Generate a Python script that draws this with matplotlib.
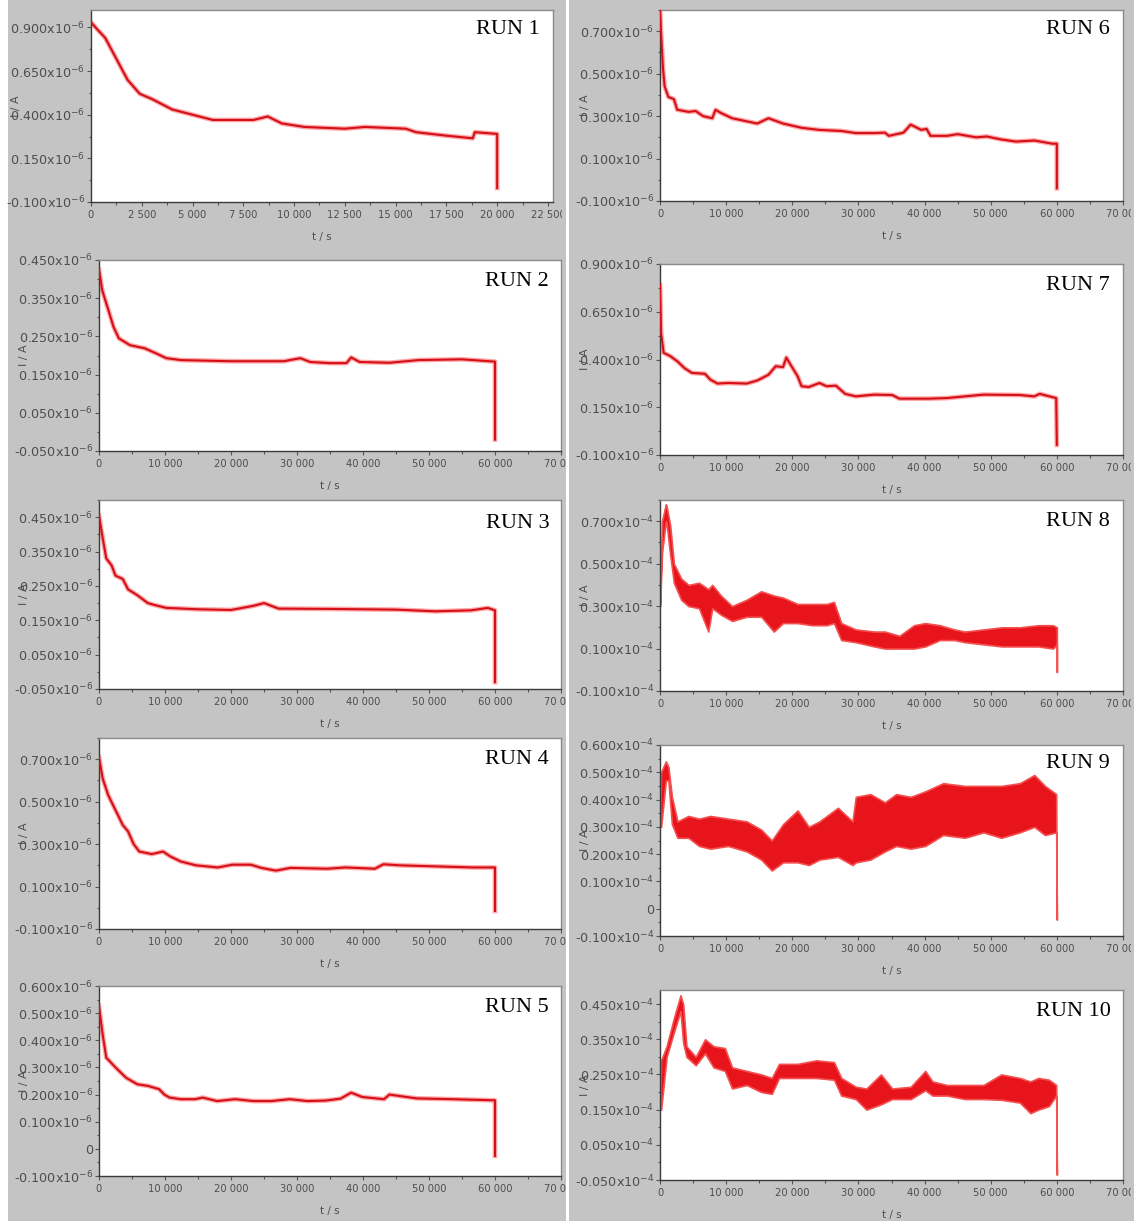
import matplotlib
matplotlib.use("Agg")
import matplotlib.pyplot as plt
from matplotlib.patches import Rectangle
from matplotlib.ticker import AutoMinorLocator
from matplotlib.transforms import Bbox, TransformedBbox

# ---------------- data (current in units shown on each axis) ----------------
t1 = [0, 300, 700, 1250, 1800, 2400, 3000, 4000, 5000, 6000, 7000, 8000, 8700, 9400,
      10500, 12500, 13500, 15500, 16000, 17500, 18800, 18900, 20000, 20000]
i1 = [0.93, 0.89, 0.84, 0.72, 0.60, 0.52, 0.49, 0.43, 0.40, 0.37, 0.37, 0.37, 0.39, 0.35,
      0.33, 0.32, 0.33, 0.32, 0.30, 0.28, 0.265, 0.30, 0.29, -0.02]

t2 = [0, 500, 1400, 2200, 3000, 4700, 6900, 8600, 10200, 12400, 20000, 28000, 30500, 32000,
      35000, 37500, 38200, 39500, 44000, 48400, 55000, 60000, 60000]
i2 = [0.425, 0.37, 0.32, 0.275, 0.245, 0.227, 0.219, 0.206, 0.193, 0.188, 0.185, 0.185, 0.193, 0.183,
      0.18, 0.18, 0.195, 0.183, 0.181, 0.188, 0.19, 0.184, -0.02]

t3 = [0, 550, 1100, 1900, 2500, 3600, 4400, 5800, 7400, 8500, 10200, 15000, 20000, 23400,
      25000, 27200, 35000, 45000, 51000, 56400, 58900, 60000, 60000]
i3 = [0.455, 0.39, 0.33, 0.31, 0.28, 0.27, 0.24, 0.223, 0.20, 0.194, 0.186, 0.182, 0.18, 0.192,
      0.20, 0.184, 0.183, 0.181, 0.176, 0.179, 0.186, 0.179, -0.03]

t4 = [0, 550, 1400, 2500, 3600, 4400, 5250, 6100, 8000, 9700, 10800, 12400, 14700, 18000,
      20200, 23000, 24600, 26800, 29000, 34600, 37300, 41800, 43100, 45600, 51100, 56700, 60000, 60000]
i4 = [0.71, 0.61, 0.53, 0.46, 0.39, 0.36, 0.30, 0.265, 0.253, 0.265, 0.242, 0.218, 0.20, 0.19,
      0.203, 0.203, 0.188, 0.175, 0.188, 0.184, 0.19, 0.184, 0.205, 0.20, 0.195, 0.19, 0.19, -0.015]

t5 = [0, 550, 1100, 2500, 4100, 5800, 7400, 9100, 9900, 10700, 12400, 14600, 15700, 17900,
      20600, 23400, 26100, 28900, 31600, 34400, 36600, 38200, 39900, 43200, 44000, 48100, 53600,
      59600, 60000, 60000]
i5 = [0.526, 0.422, 0.336, 0.30, 0.262, 0.238, 0.232, 0.22, 0.20, 0.189, 0.183, 0.183, 0.189, 0.176,
      0.183, 0.176, 0.176, 0.183, 0.176, 0.178, 0.185, 0.207, 0.191, 0.183, 0.20, 0.186, 0.183,
      0.179, 0.179, -0.026]

t6 = [0, 165, 440, 700, 1270, 2100, 2600, 4300, 5400, 6500, 7900, 8400, 9200, 10900, 14700,
      16400, 18600, 21400, 24100, 27400, 29600, 32400, 34000, 34600, 36800, 37900, 39500, 40300,
      40900, 43400, 45000, 47800, 49400, 51600, 53800, 56600, 59300, 60000, 60000]
i6 = [0.80, 0.69, 0.53, 0.44, 0.39, 0.38, 0.33, 0.32, 0.324, 0.30, 0.29, 0.33, 0.315, 0.29, 0.265,
      0.29, 0.265, 0.245, 0.235, 0.23, 0.22, 0.22, 0.222, 0.207, 0.222, 0.26, 0.235, 0.24,
      0.207, 0.207, 0.215, 0.20, 0.204, 0.19, 0.18, 0.185, 0.17, 0.17, -0.04]

t7 = [0, 165, 550, 1540, 2640, 3700, 4800, 6800, 7600, 8700, 10300, 13100, 14700, 16400, 17500,
      18600, 19100, 19700, 20800, 21400, 22500, 24100, 25200, 26600, 28000, 29600, 32400, 35100,
      36200, 40600, 43400, 46100, 48900, 54400, 56600, 57400, 59900, 60000]
i7 = [0.79, 0.54, 0.435, 0.418, 0.39, 0.355, 0.33, 0.325, 0.295, 0.274, 0.277, 0.274, 0.29, 0.32, 0.365,
      0.36, 0.41, 0.375, 0.313, 0.26, 0.256, 0.277, 0.26, 0.263, 0.22, 0.207, 0.216, 0.214,
      0.195, 0.195, 0.198, 0.207, 0.216, 0.214, 0.207, 0.22, 0.198, -0.047]

# noisy runs: lower / upper envelope of the trace
t8 = [0, 300, 880, 1000, 1540, 2100, 3200, 4300, 5900, 7300, 7900, 9200, 10900, 13100, 15300,
      17200, 18600, 20800, 23000, 25200, 26300, 27400, 29600, 32400, 34000, 36200, 38400, 40100,
      42300, 44500, 46100, 48900, 51700, 54400, 57200, 59400, 60000, 60000]
hi8 = [0.30, 0.70, 0.78, 0.77, 0.68, 0.50, 0.43, 0.40, 0.41, 0.38, 0.40, 0.35, 0.30, 0.33, 0.37,
       0.35, 0.34, 0.31, 0.31, 0.31, 0.32, 0.22, 0.19, 0.18, 0.18, 0.16, 0.21, 0.22,
       0.21, 0.19, 0.18, 0.19, 0.20, 0.20, 0.21, 0.21, 0.20, -0.01]
lo8 = [0.30, 0.55, 0.70, 0.69, 0.54, 0.41, 0.33, 0.30, 0.29, 0.18, 0.29, 0.26, 0.23, 0.25, 0.25,
       0.18, 0.22, 0.22, 0.21, 0.21, 0.22, 0.14, 0.13, 0.11, 0.10, 0.10, 0.10, 0.11,
       0.14, 0.14, 0.13, 0.12, 0.11, 0.11, 0.11, 0.10, 0.12, -0.01]

t9 = [0, 165, 880, 1270, 1800, 2640, 4300, 5900, 7600, 10300, 13100, 15300, 16900, 18600, 20800,
      22500, 24100, 26900, 29100, 29600, 31800, 34000, 35700, 37900, 40100, 42800, 46100, 48900,
      51600, 54400, 56600, 58200, 59900, 60000]
hi9 = [0.30, 0.50, 0.54, 0.52, 0.41, 0.32, 0.34, 0.33, 0.34, 0.33, 0.32, 0.29, 0.25, 0.31, 0.36,
       0.30, 0.32, 0.37, 0.32, 0.41, 0.42, 0.39, 0.42, 0.41, 0.43, 0.46, 0.45, 0.45,
       0.45, 0.46, 0.49, 0.45, 0.42, -0.04]
lo9 = [0.30, 0.30, 0.47, 0.47, 0.31, 0.26, 0.26, 0.23, 0.22, 0.23, 0.21, 0.18, 0.14, 0.17, 0.17,
       0.16, 0.18, 0.19, 0.16, 0.17, 0.18, 0.21, 0.23, 0.22, 0.23, 0.27, 0.26, 0.28,
       0.26, 0.28, 0.30, 0.27, 0.28, -0.04]

t10 = [0, 165, 1000, 2100, 3100, 3500, 4000, 5400, 6800, 8100, 9800, 10900, 13100, 15300, 16900,
       18000, 20800, 23600, 26300, 27400, 29600, 31200, 33400, 35100, 37900, 40100, 41200, 43400,
       46100, 48900, 51600, 54400, 56000, 57200, 58800, 59900, 60000]
hi10 = [0.15, 0.29, 0.33, 0.41, 0.475, 0.45, 0.33, 0.30, 0.35, 0.33, 0.325, 0.27, 0.26, 0.25, 0.24,
        0.28, 0.28, 0.29, 0.285, 0.24, 0.215, 0.21, 0.25, 0.21, 0.215, 0.26, 0.23, 0.22,
        0.22, 0.22, 0.25, 0.24, 0.23, 0.24, 0.235, 0.22, -0.035]
lo10 = [0.15, 0.15, 0.30, 0.37, 0.43, 0.34, 0.30, 0.276, 0.31, 0.27, 0.26, 0.21, 0.22, 0.20, 0.195,
        0.24, 0.24, 0.24, 0.235, 0.19, 0.18, 0.15, 0.165, 0.18, 0.18, 0.205, 0.19, 0.19,
        0.18, 0.18, 0.178, 0.17, 0.14, 0.15, 0.16, 0.19, -0.035]

# tick values / labels
yt_a = [-0.1, 0.15, 0.4, 0.65, 0.9]
yt_b = [-0.05, 0.05, 0.15, 0.25, 0.35, 0.45]
yt_c = [-0.1, 0.1, 0.3, 0.5, 0.7]
yt_d = [-0.1, 0.0, 0.1, 0.2, 0.3, 0.4, 0.5, 0.6]
xt_short = [0, 2500, 5000, 7500, 10000, 12500, 15000, 17500, 20000, 22500]
xt_long = [0, 10000, 20000, 30000, 40000, 50000, 60000, 70000]
run_names = ["RUN 1", "RUN 2", "RUN 3", "RUN 4", "RUN 5",
             "RUN 6", "RUN 7", "RUN 8", "RUN 9", "RUN 10"]

# ---------------- layout ----------------
W, H = 1136, 1221
BG = "#c4c4c4"
RED = "#e8141c"
TXT = "#4e4e4e"

fig = plt.figure(figsize=(W / 100, H / 100), dpi=100)
fig.patch.set_facecolor("white")
fig.add_artist(Rectangle((8 / W, 0), (566 - 8) / W, 1, transform=fig.transFigure,
                         facecolor=BG, edgecolor="none", zorder=0))
fig.add_artist(Rectangle((569 / W, 0), (1134 - 569) / W, 1, transform=fig.transFigure,
                         facecolor=BG, edgecolor="none", zorder=0))

# (name idx, kind, data, box px (l,t,r,b), ylim, yticks, exponent, xlim, xticks, clip x-range, label pos)
panels = [
    (0, "line", (t1, i1), (91, 10, 553, 202), (-0.1, 1.0), yt_a, -6, (0, 22750), xt_short, (8, 562), (540, 30)),
    (1, "line", (t2, i2), (99, 260, 561, 451), (-0.05, 0.45), yt_b, -6, (0, 70000), xt_long, (8, 566), (549, 282)),
    (2, "line", (t3, i3), (99, 500, 561, 689), (-0.05, 0.50), yt_b, -6, (0, 70000), xt_long, (8, 566), (550, 524)),
    (3, "line", (t4, i4), (99, 738, 561, 929), (-0.1, 0.8), yt_c, -6, (0, 70000), xt_long, (8, 566), (549, 760)),
    (4, "line", (t5, i5), (99, 986, 561, 1176), (-0.1, 0.6), yt_d, -6, (0, 70000), xt_long, (8, 566), (549, 1007)),
    (5, "line", (t6, i6), (660, 10, 1123, 201), (-0.1, 0.8), yt_c, -6, (0, 70000), xt_long, (569, 1131), (1110, 30)),
    (6, "line", (t7, i7), (660, 264, 1123, 455), (-0.1, 0.9), yt_a, -6, (0, 70000), xt_long, (569, 1131), (1110, 285)),
    (7, "band", (t8, lo8, hi8), (660, 500, 1123, 691), (-0.1, 0.8), yt_c, -4, (0, 70000), xt_long, (569, 1131), (1110, 522)),
    (8, "band", (t9, lo9, hi9), (660, 745, 1123, 936), (-0.1, 0.6), yt_d, -4, (0, 70000), xt_long, (569, 1131), (1110, 764)),
    (9, "band", (t10, lo10, hi10), (660, 990, 1123, 1180), (-0.05, 0.49), yt_b, -4, (0, 70000), xt_long, (569, 1131), (1111, 1011)),
]


def ylab(v, e):
    if abs(v) < 1e-12:
        return "0"
    return "%.3fx10$^{%d}$" % (v, e)


def xlab(v):
    return "{:,}".format(int(v)).replace(",", " ")


for idx, kind, data, box, ylim, yt, ex, xlim, xt, clipx, lpos in panels:
    l, t, r, b = box
    ax = fig.add_axes([l / W, 1 - b / H, (r - l) / W, (b - t) / H])
    ax.set_facecolor("white")
    ax.set_xlim(*xlim)
    ax.set_ylim(*ylim)
    if kind == "line":
        tt, ii = data
        ax.plot(tt, ii, color="#ff3a3a", lw=3.4, alpha=0.45, solid_joinstyle="round", zorder=2)
        ax.plot(tt, ii, color="#d40f18", lw=1.5, solid_joinstyle="round", zorder=3)
    else:
        tt, lo, hi = data
        ax.fill_between(tt, lo, hi, color=RED, lw=1.2, edgecolor="#f55050", zorder=2)
    ax.set_yticks(yt, [ylab(v, ex) for v in yt])
    ax.set_xticks(xt, [xlab(v) for v in xt])
    ax.xaxis.set_minor_locator(AutoMinorLocator(2))
    ax.yaxis.set_minor_locator(AutoMinorLocator(2))
    ax.tick_params(axis="both", which="both", direction="out", color="#555555", width=0.8)
    ax.tick_params(axis="both", which="major", length=3)
    ax.tick_params(axis="both", which="minor", length=1.8)
    ax.tick_params(axis="y", labelsize=9.2, labelcolor=TXT, pad=1.0)
    ax.tick_params(axis="x", labelsize=7.2, labelcolor=TXT, pad=2.5)
    for lab in ax.get_yticklabels() + ax.get_xticklabels():
        lab.set_family("DejaVu Sans")
    for sp in ("left", "bottom"):
        ax.spines[sp].set_color("#3a3a3a")
        ax.spines[sp].set_linewidth(1.0)
    for sp in ("top", "right"):
        ax.spines[sp].set_color("#8a8a8a")
        ax.spines[sp].set_linewidth(1.0)
    clipbox = TransformedBbox(Bbox.from_extents(clipx[0] / W, 0, clipx[1] / W, 1), fig.transFigure)
    for tk in ax.xaxis.get_major_ticks():
        tk.label1.set_clip_box(clipbox)
        tk.label1.set_clip_on(True)

    # axis titles
    fig.text((l + r) / 2 / W, 1 - (b + 35) / H, "t / s", ha="center", va="center",
             fontsize=7.5, color=TXT, family="DejaVu Sans")
    fig.text((l - 75) / W, 1 - (t + b) / 2 / H, "I / A", ha="center", va="center",
             rotation=90, fontsize=8, color=TXT, family="DejaVu Sans")
    # run label
    fig.text(lpos[0] / W, 1 - lpos[1] / H, run_names[idx], ha="right", va="center",
             fontsize=16, color="black", family="Liberation Serif", zorder=10)

fig.savefig("out.png", dpi=100, facecolor="white")
